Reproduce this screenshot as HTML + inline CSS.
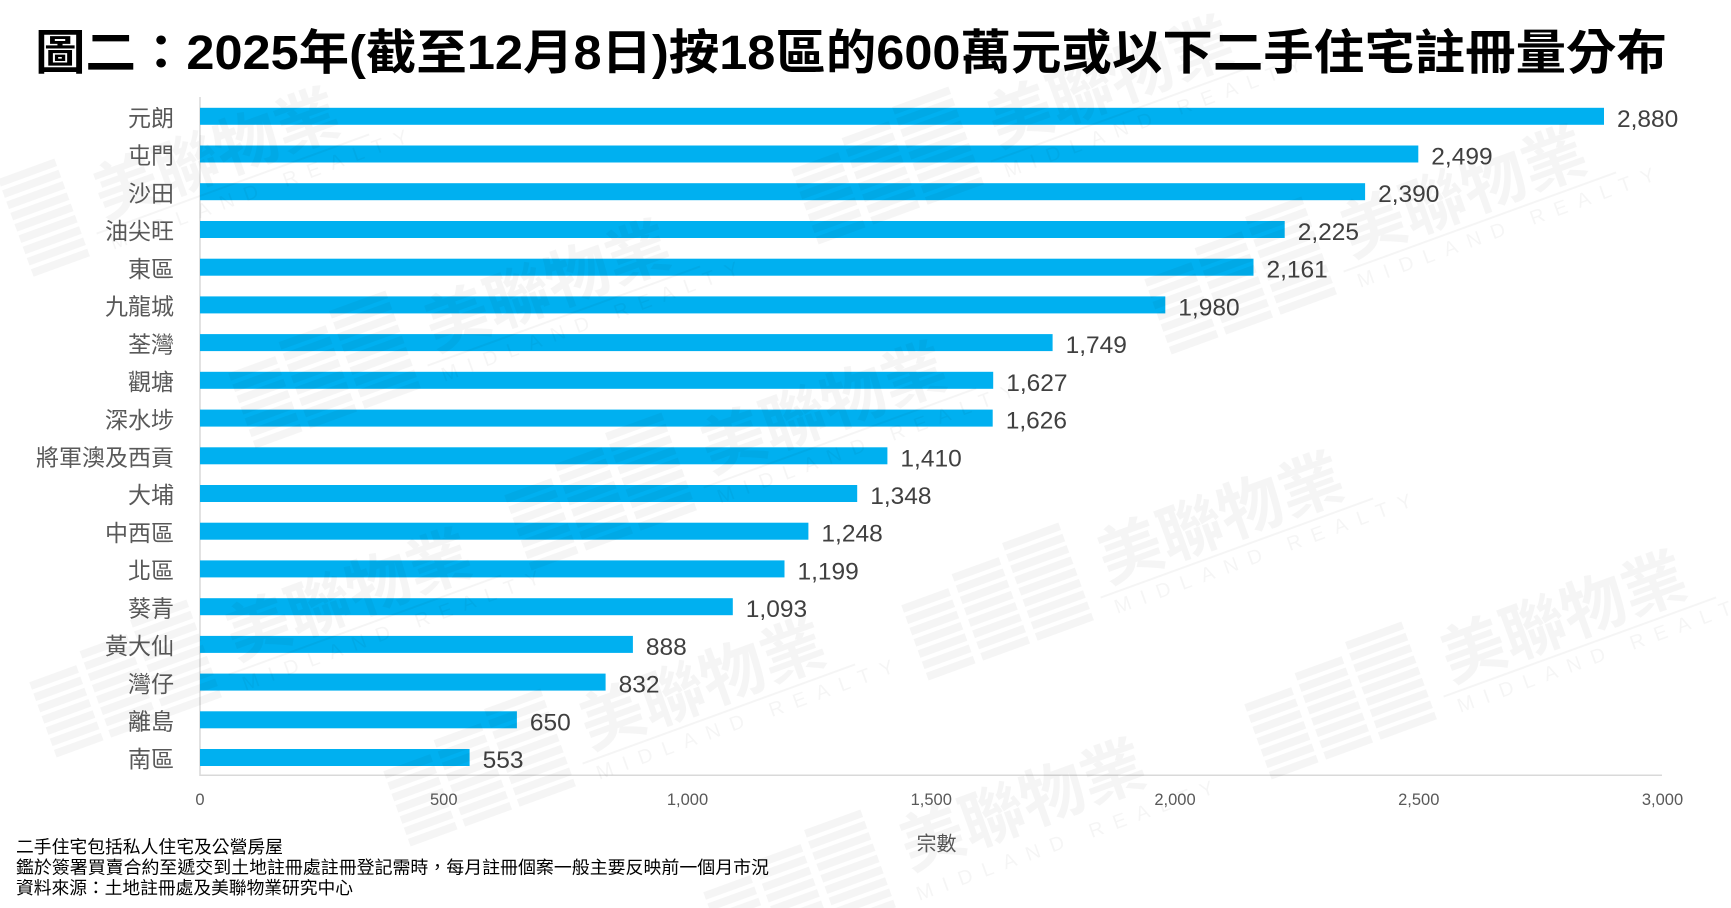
<!DOCTYPE html>
<html>
<head>
<meta charset="utf-8">
<style>
  html,body{margin:0;padding:0;background:#fff;width:1731px;height:908px;overflow:hidden;}
  svg{display:block;overflow:hidden;}
  .wm{fill:#000;fill-opacity:0.04;}
</style>
</head>
<body>
<svg width="1731" height="908" viewBox="0 0 1731 908" xmlns="http://www.w3.org/2000/svg">
  <defs><clipPath id="cp"><rect x="0" y="0" width="1731" height="908"/></clipPath></defs>
  <rect x="0" y="0" width="1731" height="908" fill="#fff"/>

  <!-- Title -->
  <text x="35" y="69" textLength="1632" lengthAdjust="spacingAndGlyphs" font-family="Liberation Sans, 'Noto Sans CJK TC', sans-serif" font-weight="bold" font-size="48" fill="#000">圖二：2025年(截至12月8日)按18區的600萬元或以下二手住宅註冊量分布</text>

  <!-- Axes -->
  <line x1="200" y1="97" x2="200" y2="776" stroke="#d9d9d9" stroke-width="1.5"/>
  <line x1="200" y1="775.3" x2="1662" y2="775.3" stroke="#d9d9d9" stroke-width="1.5"/>

  <!-- Bars -->
  <g fill="#00B0F0">
    <rect x="200" y="107.8" width="1404" height="17"/>
    <rect x="200" y="145.5" width="1218.3" height="17"/>
    <rect x="200" y="183.2" width="1165.1" height="17"/>
    <rect x="200" y="221.0" width="1084.7" height="17"/>
    <rect x="200" y="258.7" width="1053.5" height="17"/>
    <rect x="200" y="296.4" width="965.3" height="17"/>
    <rect x="200" y="334.1" width="852.6" height="17"/>
    <rect x="200" y="371.8" width="793.2" height="17"/>
    <rect x="200" y="409.6" width="792.7" height="17"/>
    <rect x="200" y="447.3" width="687.4" height="17"/>
    <rect x="200" y="485.0" width="657.2" height="17"/>
    <rect x="200" y="522.7" width="608.4" height="17"/>
    <rect x="200" y="560.4" width="584.5" height="17"/>
    <rect x="200" y="598.2" width="532.8" height="17"/>
    <rect x="200" y="635.9" width="432.9" height="17"/>
    <rect x="200" y="673.6" width="405.6" height="17"/>
    <rect x="200" y="711.3" width="316.9" height="17"/>
    <rect x="200" y="749.0" width="269.6" height="17"/>
  </g>

  <!-- Category labels -->
  <g font-family="Liberation Sans, 'Noto Sans CJK TC', sans-serif" font-size="23" fill="#595959" text-anchor="end">
    <text x="174" y="126.0">元朗</text>
    <text x="174" y="163.7">屯門</text>
    <text x="174" y="201.4">沙田</text>
    <text x="174" y="239.2">油尖旺</text>
    <text x="174" y="276.9">東區</text>
    <text x="174" y="314.6">九龍城</text>
    <text x="174" y="352.3">荃灣</text>
    <text x="174" y="390.0">觀塘</text>
    <text x="174" y="427.8">深水埗</text>
    <text x="174" y="465.5">將軍澳及西貢</text>
    <text x="174" y="503.2">大埔</text>
    <text x="174" y="540.9">中西區</text>
    <text x="174" y="578.6">北區</text>
    <text x="174" y="616.4">葵青</text>
    <text x="174" y="654.1">黃大仙</text>
    <text x="174" y="691.8">灣仔</text>
    <text x="174" y="729.5">離島</text>
    <text x="174" y="767.2">南區</text>
  </g>

  <!-- Value labels -->
  <g font-family="Liberation Sans, sans-serif" font-size="24.5" fill="#404040">
    <text x="1617" y="126.8">2,880</text>
    <text x="1431.3" y="164.5">2,499</text>
    <text x="1378.1" y="202.2">2,390</text>
    <text x="1297.7" y="240.0">2,225</text>
    <text x="1266.5" y="277.7">2,161</text>
    <text x="1178.3" y="315.4">1,980</text>
    <text x="1065.6" y="353.1">1,749</text>
    <text x="1006.2" y="390.8">1,627</text>
    <text x="1005.7" y="428.6">1,626</text>
    <text x="900.4" y="466.3">1,410</text>
    <text x="870.2" y="504.0">1,348</text>
    <text x="821.4" y="541.7">1,248</text>
    <text x="797.5" y="579.4">1,199</text>
    <text x="745.8" y="617.2">1,093</text>
    <text x="645.9" y="654.9">888</text>
    <text x="618.6" y="692.6">832</text>
    <text x="529.9" y="730.3">650</text>
    <text x="482.6" y="768.0">553</text>
  </g>

  <!-- X tick labels -->
  <g font-family="Liberation Sans, sans-serif" font-size="16.5" fill="#595959" text-anchor="middle">
    <text x="200" y="805">0</text>
    <text x="443.75" y="805">500</text>
    <text x="687.5" y="805">1,000</text>
    <text x="931.25" y="805">1,500</text>
    <text x="1175" y="805">2,000</text>
    <text x="1418.75" y="805">2,500</text>
    <text x="1662.5" y="805">3,000</text>
  </g>

  <!-- Axis title -->
  <text x="936.5" y="850.5" text-anchor="middle" font-family="Liberation Sans, 'Noto Sans CJK TC', sans-serif" font-size="20" fill="#595959">宗數</text>

  <!-- Footnotes -->
  <g font-family="Liberation Sans, 'Noto Sans CJK TC', sans-serif" font-size="17.8" fill="#000">
    <text x="16" y="853" textLength="267" lengthAdjust="spacingAndGlyphs">二手住宅包括私人住宅及公營房屋</text>
    <text x="16" y="873.5" textLength="753" lengthAdjust="spacingAndGlyphs">鑑於簽署買賣合約至遞交到土地註冊處註冊登記需時，每月註冊個案一般主要反映前一個月市況</text>
    <text x="16" y="894" textLength="337" lengthAdjust="spacingAndGlyphs">資料來源：土地註冊處及美聯物業研究中心</text>
  </g>

  <!-- Watermarks -->
  <g class="wm" clip-path="url(#cp)" font-family="Liberation Sans, 'Noto Sans CJK TC', sans-serif" font-weight="bold">
    <g transform="translate(1115,94) rotate(-20)">
      <rect x="-330" y="-40" width="50" height="8"/><rect x="-330" y="-28" width="50" height="8"/><rect x="-330" y="-16" width="50" height="8"/><rect x="-330" y="-4" width="50" height="8"/><rect x="-330" y="8" width="50" height="8"/><rect x="-330" y="20" width="50" height="8"/><rect x="-330" y="32" width="50" height="8"/>
      <rect x="-272" y="-52" width="50" height="8"/><rect x="-272" y="-40" width="50" height="8"/><rect x="-272" y="-28" width="50" height="8"/><rect x="-272" y="-16" width="50" height="8"/><rect x="-272" y="-4" width="50" height="8"/><rect x="-272" y="8" width="50" height="8"/><rect x="-272" y="20" width="50" height="8"/><rect x="-272" y="32" width="50" height="8"/>
      <rect x="-214" y="-64" width="60" height="8"/><rect x="-214" y="-52" width="60" height="8"/><rect x="-214" y="-40" width="60" height="8"/><rect x="-214" y="-28" width="60" height="8"/><rect x="-214" y="-16" width="60" height="8"/><rect x="-214" y="-4" width="60" height="8"/><rect x="-214" y="8" width="60" height="8"/><rect x="-214" y="20" width="60" height="8"/><rect x="-214" y="32" width="60" height="8"/>
      <text x="0" y="10" text-anchor="middle" font-size="64">美聯物業</text>
      <text x="-130" y="42" font-size="20" letter-spacing="11" font-weight="normal">MIDLAND REALTY</text>
      <rect x="-140" y="20" width="290" height="2"/>
    </g>
    <g transform="translate(1468,204) rotate(-20)">
      <rect x="-330" y="-40" width="50" height="8"/><rect x="-330" y="-28" width="50" height="8"/><rect x="-330" y="-16" width="50" height="8"/><rect x="-330" y="-4" width="50" height="8"/><rect x="-330" y="8" width="50" height="8"/><rect x="-330" y="20" width="50" height="8"/><rect x="-330" y="32" width="50" height="8"/>
      <rect x="-272" y="-52" width="50" height="8"/><rect x="-272" y="-40" width="50" height="8"/><rect x="-272" y="-28" width="50" height="8"/><rect x="-272" y="-16" width="50" height="8"/><rect x="-272" y="-4" width="50" height="8"/><rect x="-272" y="8" width="50" height="8"/><rect x="-272" y="20" width="50" height="8"/><rect x="-272" y="32" width="50" height="8"/>
      <rect x="-214" y="-64" width="60" height="8"/><rect x="-214" y="-52" width="60" height="8"/><rect x="-214" y="-40" width="60" height="8"/><rect x="-214" y="-28" width="60" height="8"/><rect x="-214" y="-16" width="60" height="8"/><rect x="-214" y="-4" width="60" height="8"/><rect x="-214" y="8" width="60" height="8"/><rect x="-214" y="20" width="60" height="8"/><rect x="-214" y="32" width="60" height="8"/>
      <text x="0" y="10" text-anchor="middle" font-size="64">美聯物業</text>
      <text x="-130" y="42" font-size="20" letter-spacing="11" font-weight="normal">MIDLAND REALTY</text>
      <rect x="-140" y="20" width="290" height="2"/>
    </g>
    <g transform="translate(552,298) rotate(-20)">
      <rect x="-330" y="-40" width="50" height="8"/><rect x="-330" y="-28" width="50" height="8"/><rect x="-330" y="-16" width="50" height="8"/><rect x="-330" y="-4" width="50" height="8"/><rect x="-330" y="8" width="50" height="8"/><rect x="-330" y="20" width="50" height="8"/><rect x="-330" y="32" width="50" height="8"/>
      <rect x="-272" y="-52" width="50" height="8"/><rect x="-272" y="-40" width="50" height="8"/><rect x="-272" y="-28" width="50" height="8"/><rect x="-272" y="-16" width="50" height="8"/><rect x="-272" y="-4" width="50" height="8"/><rect x="-272" y="8" width="50" height="8"/><rect x="-272" y="20" width="50" height="8"/><rect x="-272" y="32" width="50" height="8"/>
      <rect x="-214" y="-64" width="60" height="8"/><rect x="-214" y="-52" width="60" height="8"/><rect x="-214" y="-40" width="60" height="8"/><rect x="-214" y="-28" width="60" height="8"/><rect x="-214" y="-16" width="60" height="8"/><rect x="-214" y="-4" width="60" height="8"/><rect x="-214" y="8" width="60" height="8"/><rect x="-214" y="20" width="60" height="8"/><rect x="-214" y="32" width="60" height="8"/>
      <text x="0" y="10" text-anchor="middle" font-size="64">美聯物業</text>
      <text x="-130" y="42" font-size="20" letter-spacing="11" font-weight="normal">MIDLAND REALTY</text>
      <rect x="-140" y="20" width="290" height="2"/>
    </g>
    <g transform="translate(828,420) rotate(-20)">
      <rect x="-330" y="-40" width="50" height="8"/><rect x="-330" y="-28" width="50" height="8"/><rect x="-330" y="-16" width="50" height="8"/><rect x="-330" y="-4" width="50" height="8"/><rect x="-330" y="8" width="50" height="8"/><rect x="-330" y="20" width="50" height="8"/><rect x="-330" y="32" width="50" height="8"/>
      <rect x="-272" y="-52" width="50" height="8"/><rect x="-272" y="-40" width="50" height="8"/><rect x="-272" y="-28" width="50" height="8"/><rect x="-272" y="-16" width="50" height="8"/><rect x="-272" y="-4" width="50" height="8"/><rect x="-272" y="8" width="50" height="8"/><rect x="-272" y="20" width="50" height="8"/><rect x="-272" y="32" width="50" height="8"/>
      <rect x="-214" y="-64" width="60" height="8"/><rect x="-214" y="-52" width="60" height="8"/><rect x="-214" y="-40" width="60" height="8"/><rect x="-214" y="-28" width="60" height="8"/><rect x="-214" y="-16" width="60" height="8"/><rect x="-214" y="-4" width="60" height="8"/><rect x="-214" y="8" width="60" height="8"/><rect x="-214" y="20" width="60" height="8"/><rect x="-214" y="32" width="60" height="8"/>
      <text x="0" y="10" text-anchor="middle" font-size="64">美聯物業</text>
      <text x="-130" y="42" font-size="20" letter-spacing="11" font-weight="normal">MIDLAND REALTY</text>
      <rect x="-140" y="20" width="290" height="2"/>
    </g>
    <g transform="translate(1225,530) rotate(-20)">
      <rect x="-330" y="-40" width="50" height="8"/><rect x="-330" y="-28" width="50" height="8"/><rect x="-330" y="-16" width="50" height="8"/><rect x="-330" y="-4" width="50" height="8"/><rect x="-330" y="8" width="50" height="8"/><rect x="-330" y="20" width="50" height="8"/><rect x="-330" y="32" width="50" height="8"/>
      <rect x="-272" y="-52" width="50" height="8"/><rect x="-272" y="-40" width="50" height="8"/><rect x="-272" y="-28" width="50" height="8"/><rect x="-272" y="-16" width="50" height="8"/><rect x="-272" y="-4" width="50" height="8"/><rect x="-272" y="8" width="50" height="8"/><rect x="-272" y="20" width="50" height="8"/><rect x="-272" y="32" width="50" height="8"/>
      <rect x="-214" y="-64" width="60" height="8"/><rect x="-214" y="-52" width="60" height="8"/><rect x="-214" y="-40" width="60" height="8"/><rect x="-214" y="-28" width="60" height="8"/><rect x="-214" y="-16" width="60" height="8"/><rect x="-214" y="-4" width="60" height="8"/><rect x="-214" y="8" width="60" height="8"/><rect x="-214" y="20" width="60" height="8"/><rect x="-214" y="32" width="60" height="8"/>
      <text x="0" y="10" text-anchor="middle" font-size="64">美聯物業</text>
      <text x="-130" y="42" font-size="20" letter-spacing="11" font-weight="normal">MIDLAND REALTY</text>
      <rect x="-140" y="20" width="290" height="2"/>
    </g>
    <g transform="translate(353,607) rotate(-20)">
      <rect x="-330" y="-40" width="50" height="8"/><rect x="-330" y="-28" width="50" height="8"/><rect x="-330" y="-16" width="50" height="8"/><rect x="-330" y="-4" width="50" height="8"/><rect x="-330" y="8" width="50" height="8"/><rect x="-330" y="20" width="50" height="8"/><rect x="-330" y="32" width="50" height="8"/>
      <rect x="-272" y="-52" width="50" height="8"/><rect x="-272" y="-40" width="50" height="8"/><rect x="-272" y="-28" width="50" height="8"/><rect x="-272" y="-16" width="50" height="8"/><rect x="-272" y="-4" width="50" height="8"/><rect x="-272" y="8" width="50" height="8"/><rect x="-272" y="20" width="50" height="8"/><rect x="-272" y="32" width="50" height="8"/>
      <rect x="-214" y="-64" width="60" height="8"/><rect x="-214" y="-52" width="60" height="8"/><rect x="-214" y="-40" width="60" height="8"/><rect x="-214" y="-28" width="60" height="8"/><rect x="-214" y="-16" width="60" height="8"/><rect x="-214" y="-4" width="60" height="8"/><rect x="-214" y="8" width="60" height="8"/><rect x="-214" y="20" width="60" height="8"/><rect x="-214" y="32" width="60" height="8"/>
      <text x="0" y="10" text-anchor="middle" font-size="64">美聯物業</text>
      <text x="-130" y="42" font-size="20" letter-spacing="11" font-weight="normal">MIDLAND REALTY</text>
      <rect x="-140" y="20" width="290" height="2"/>
    </g>
    <g transform="translate(1568,629) rotate(-20)">
      <rect x="-330" y="-40" width="50" height="8"/><rect x="-330" y="-28" width="50" height="8"/><rect x="-330" y="-16" width="50" height="8"/><rect x="-330" y="-4" width="50" height="8"/><rect x="-330" y="8" width="50" height="8"/><rect x="-330" y="20" width="50" height="8"/><rect x="-330" y="32" width="50" height="8"/>
      <rect x="-272" y="-52" width="50" height="8"/><rect x="-272" y="-40" width="50" height="8"/><rect x="-272" y="-28" width="50" height="8"/><rect x="-272" y="-16" width="50" height="8"/><rect x="-272" y="-4" width="50" height="8"/><rect x="-272" y="8" width="50" height="8"/><rect x="-272" y="20" width="50" height="8"/><rect x="-272" y="32" width="50" height="8"/>
      <rect x="-214" y="-64" width="60" height="8"/><rect x="-214" y="-52" width="60" height="8"/><rect x="-214" y="-40" width="60" height="8"/><rect x="-214" y="-28" width="60" height="8"/><rect x="-214" y="-16" width="60" height="8"/><rect x="-214" y="-4" width="60" height="8"/><rect x="-214" y="8" width="60" height="8"/><rect x="-214" y="20" width="60" height="8"/><rect x="-214" y="32" width="60" height="8"/>
      <text x="0" y="10" text-anchor="middle" font-size="64">美聯物業</text>
      <text x="-130" y="42" font-size="20" letter-spacing="11" font-weight="normal">MIDLAND REALTY</text>
      <rect x="-140" y="20" width="290" height="2"/>
    </g>
    <g transform="translate(707,696) rotate(-20)">
      <rect x="-330" y="-40" width="50" height="8"/><rect x="-330" y="-28" width="50" height="8"/><rect x="-330" y="-16" width="50" height="8"/><rect x="-330" y="-4" width="50" height="8"/><rect x="-330" y="8" width="50" height="8"/><rect x="-330" y="20" width="50" height="8"/><rect x="-330" y="32" width="50" height="8"/>
      <rect x="-272" y="-52" width="50" height="8"/><rect x="-272" y="-40" width="50" height="8"/><rect x="-272" y="-28" width="50" height="8"/><rect x="-272" y="-16" width="50" height="8"/><rect x="-272" y="-4" width="50" height="8"/><rect x="-272" y="8" width="50" height="8"/><rect x="-272" y="20" width="50" height="8"/><rect x="-272" y="32" width="50" height="8"/>
      <rect x="-214" y="-64" width="60" height="8"/><rect x="-214" y="-52" width="60" height="8"/><rect x="-214" y="-40" width="60" height="8"/><rect x="-214" y="-28" width="60" height="8"/><rect x="-214" y="-16" width="60" height="8"/><rect x="-214" y="-4" width="60" height="8"/><rect x="-214" y="8" width="60" height="8"/><rect x="-214" y="20" width="60" height="8"/><rect x="-214" y="32" width="60" height="8"/>
      <text x="0" y="10" text-anchor="middle" font-size="64">美聯物業</text>
      <text x="-130" y="42" font-size="20" letter-spacing="11" font-weight="normal">MIDLAND REALTY</text>
      <rect x="-140" y="20" width="290" height="2"/>
    </g>
    <g transform="translate(1027,817) rotate(-20)">
      <rect x="-330" y="-40" width="50" height="8"/><rect x="-330" y="-28" width="50" height="8"/><rect x="-330" y="-16" width="50" height="8"/><rect x="-330" y="-4" width="50" height="8"/><rect x="-330" y="8" width="50" height="8"/><rect x="-330" y="20" width="50" height="8"/><rect x="-330" y="32" width="50" height="8"/>
      <rect x="-272" y="-52" width="50" height="8"/><rect x="-272" y="-40" width="50" height="8"/><rect x="-272" y="-28" width="50" height="8"/><rect x="-272" y="-16" width="50" height="8"/><rect x="-272" y="-4" width="50" height="8"/><rect x="-272" y="8" width="50" height="8"/><rect x="-272" y="20" width="50" height="8"/><rect x="-272" y="32" width="50" height="8"/>
      <rect x="-214" y="-64" width="60" height="8"/><rect x="-214" y="-52" width="60" height="8"/><rect x="-214" y="-40" width="60" height="8"/><rect x="-214" y="-28" width="60" height="8"/><rect x="-214" y="-16" width="60" height="8"/><rect x="-214" y="-4" width="60" height="8"/><rect x="-214" y="8" width="60" height="8"/><rect x="-214" y="20" width="60" height="8"/><rect x="-214" y="32" width="60" height="8"/>
      <text x="0" y="10" text-anchor="middle" font-size="64">美聯物業</text>
      <text x="-130" y="42" font-size="20" letter-spacing="11" font-weight="normal">MIDLAND REALTY</text>
    </g>
    <g transform="translate(221,166) rotate(-20)">
      <rect x="-214" y="-64" width="60" height="8"/><rect x="-214" y="-52" width="60" height="8"/><rect x="-214" y="-40" width="60" height="8"/><rect x="-214" y="-28" width="60" height="8"/><rect x="-214" y="-16" width="60" height="8"/><rect x="-214" y="-4" width="60" height="8"/><rect x="-214" y="8" width="60" height="8"/><rect x="-214" y="20" width="60" height="8"/><rect x="-214" y="32" width="60" height="8"/>
      <text x="0" y="10" text-anchor="middle" font-size="64">美聯物業</text>
      <text x="-130" y="42" font-size="20" letter-spacing="11" font-weight="normal">MIDLAND REALTY</text>
      <rect x="-140" y="20" width="290" height="2"/>
    </g>
  </g>
</svg>
</body>
</html>
